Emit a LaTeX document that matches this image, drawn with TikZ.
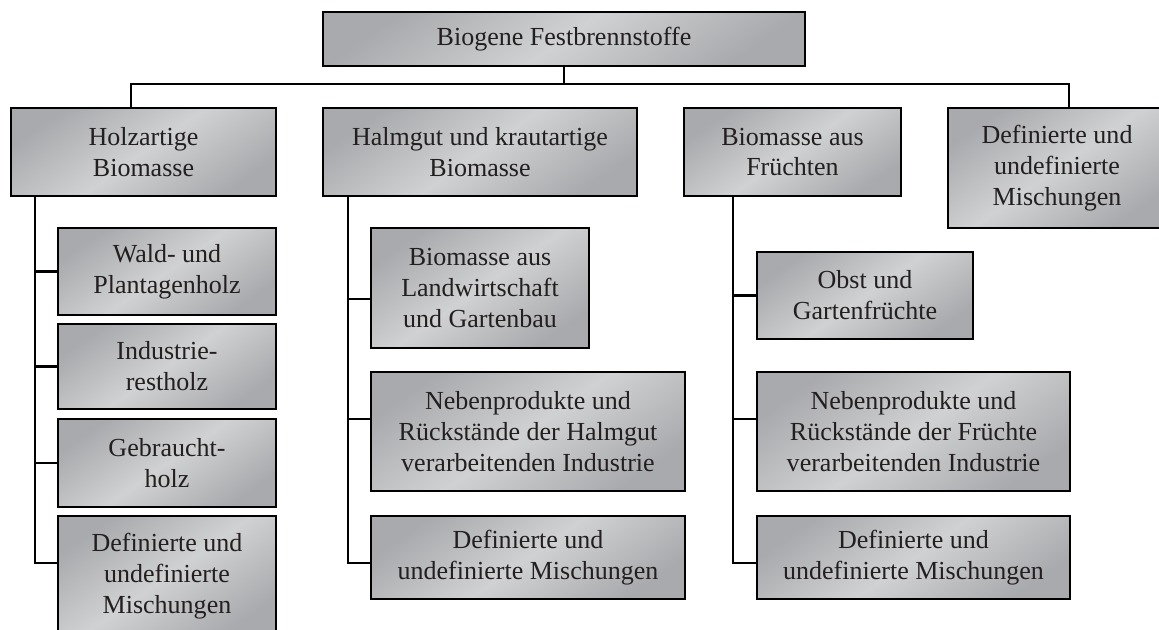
\documentclass[tikz,border=0pt]{standalone}
\usepackage{fontspec}
\setmainfont{Liberation Serif}
\usetikzlibrary{positioning,calc}
\definecolor{hell}{HTML}{D0D1D2}
\definecolor{dunkel}{HTML}{A9AAAD}
\definecolor{schrift}{HTML}{231F20}
\tikzset{
    kasten/.style={
           rectangle,
           draw=black, line width=1.6pt,
           top color=dunkel, bottom color=dunkel, middle color=hell,
           shading angle=35,
           text=schrift,
           align=center,
           inner sep=0pt,
           font=\fontsize{18.5}{22}\selectfont},
    linie/.style={
           line width=1.5pt}
}
\begin{document}
\begin{tikzpicture}[x=0.025cm, y=-0.025cm]
        \useasboundingbox (0,0) rectangle (1159,630);

        % Wurzel und erste Ebene
        \node[kasten, minimum width=12.05cm, minimum height=1.35cm] (top) at (564,39) {Biogene Festbrennstoffe};
        \node[kasten, minimum width=6.625cm, minimum height=2.2cm] (holz) at (143.5,152) {Holzartige\\Biomasse};
        \node[kasten, minimum width=7.85cm, minimum height=2.2cm] (halm) at (480,152) {Halmgut und krautartige\\Biomasse};
        \node[kasten, minimum width=5.425cm, minimum height=2.2cm] (frucht) at (792.5,152) {Biomasse aus\\Früchten};
        \node[kasten, minimum width=5.45cm, minimum height=3cm] (misch) at (1057,168) {Definierte und\\undefinierte\\Mischungen};

        % holzartig
        \node[kasten, minimum width=5.45cm, minimum height=2.175cm] (wald) at (167,271.5) {Wald- und\\Plantagenholz};
        \node[kasten, minimum width=5.45cm, minimum height=2.125cm] (indus) at (167,366.5) {Industrie-\\restholz};
        \node[kasten, minimum width=5.45cm, minimum height=2.2cm] (gebr) at (167,463) {Gebraucht-\\holz};
        \node[kasten, minimum width=5.45cm, minimum height=3cm] (mix1) at (167,576) {Definierte und\\undefinierte\\Mischungen};

        % Halmgut
        \node[kasten, minimum width=5.45cm, minimum height=3cm] (landw) at (480,288) {Biomasse aus\\Landwirtschaft\\und Gartenbau};
        \node[kasten, minimum width=7.85cm, minimum height=2.975cm] (neben2) at (528,431.5) {Nebenprodukte und\\Rückstände der Halmgut\\verarbeitenden Industrie};
        \node[kasten, minimum width=7.85cm, minimum height=2.075cm] (mix2) at (528,557.5) {Definierte und\\undefinierte Mischungen};

        % Früchte
        \node[kasten, minimum width=5.4cm, minimum height=2.175cm] (obst) at (865,295.5) {Obst und\\Gartenfrüchte};
        \node[kasten, minimum width=7.825cm, minimum height=2.975cm] (neben3) at (913.5,431.5) {Nebenprodukte und\\Rückstände der Früchte\\verarbeitenden Industrie};
        \node[kasten, minimum width=7.825cm, minimum height=2.075cm] (mix3) at (913.5,557.5) {Definierte und\\undefinierte Mischungen};

        \coordinate (bl) at (131,84);
        \coordinate (br) at (1069,84);
        \coordinate (a1) at (35,0);
        \coordinate (a2) at (348,0);
        \coordinate (a3) at (733,0);

        \draw[linie] (top.south) -- (top.south |- bl);
        \draw[linie] (holz.north -| bl) -- (bl) -- (br) -- (br |- misch.north);

        \draw[linie] (holz.south -| a1) |- ([yshift=0.325cm]mix1.west);
        \draw[linie] (wald.west) -- (wald.west -| a1);
        \draw[linie] (indus.west) -- (indus.west -| a1);
        \draw[linie] (gebr.west) -- (gebr.west -| a1);

        \draw[linie] (halm.south -| a2) |- ([yshift=-0.14cm]mix2.west);
        \draw[linie] ([yshift=-0.275cm]landw.west) -- ++(-23,0);
        \draw[linie] ([yshift=0.31cm]neben2.west) -- ++(-23,0);

        \draw[linie] (frucht.south -| a3) |- ([yshift=-0.14cm]mix3.west);
        \draw[linie] (obst.west) -- (obst.west -| a3);
        \draw[linie] ([yshift=0.31cm]neben3.west) -- ++(-24,0);
    \end{tikzpicture}
\end{document}
